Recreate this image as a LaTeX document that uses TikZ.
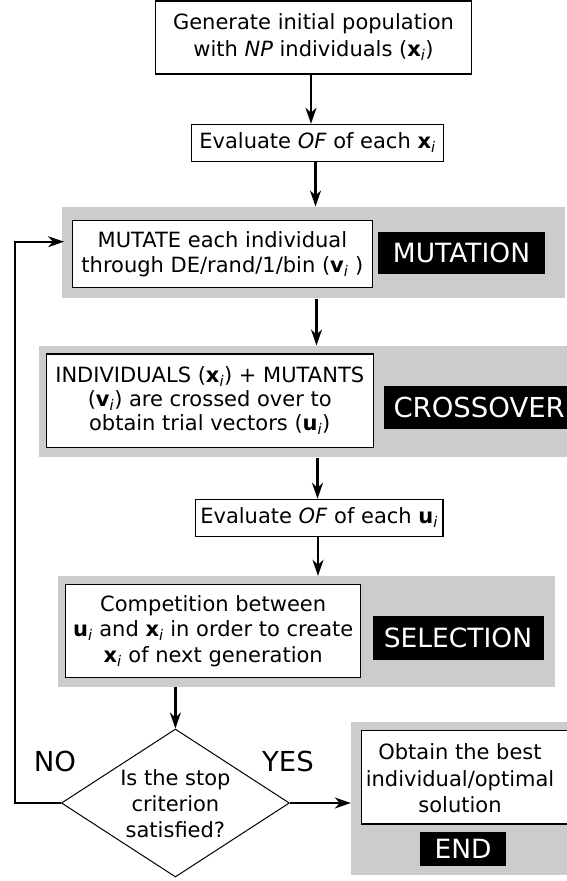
\documentclass[tikz,border=0pt]{standalone}
\usepackage{fontspec}
\setmainfont{DejaVu Sans}
\usetikzlibrary{shapes.geometric,arrows.meta}
\newcommand{\vx}[1]{\textbf{#1}\textsubscript{\itshape i}}
\begin{document}
\begin{tikzpicture}[x=1pt,y=-1pt,
  band/.style={fill=black!20, draw=none, inner sep=0pt, rectangle},
  wbox/.style={draw=black, line width=1.1pt, fill=white, inner sep=0pt, align=center},
  txt/.style={inner sep=0pt, align=center},
  tag/.style={fill=black, text=white, inner sep=0pt, font=\fontsize{26.5}{30}\selectfont},
  lbl/.style={inner sep=0pt, font=\fontsize{27.5}{30}\selectfont},
  flow/.style={line width=2.4pt, -{Stealth[length=16pt,width=11pt,inset=5pt]}},
]
\useasboundingbox (0,0) rectangle (567,881);
% top boxes
\node[wbox, minimum width=316pt, minimum height=73pt, font=\fontsize{21}{27}\selectfont] (box1) at (313.5,37.5)
  {Generate initial population\\with \textit{NP} individuals (\vx{x})};
\node[wbox, minimum width=252pt, minimum height=37pt, font=\fontsize{21}{26}\selectfont] (box2) at (317.5,142.8)
  {Evaluate \textit{OF} of each \vx{x}};
% mutation
\node[band, minimum width=503.5pt, minimum height=91.6pt] (mutband) at (313.25,252.5) {};
\node[wbox, minimum width=300pt, minimum height=67pt, font=\fontsize{21}{25}\selectfont] (mutbox) at (222.4,254.2)
  {MUTATE each individual\\through DE/rand/1/bin (\vx{v} )};
\node[tag, minimum width=167pt, minimum height=42.6pt] (muttag) at (461.5,253) {MUTATION};
% crossover
\node[band, minimum width=541.3pt, minimum height=111.6pt] (crossband) at (309.35,401.5) {};
\node[wbox, minimum width=327pt, minimum height=93.3pt, font=\fontsize{21}{24}\selectfont] (crossbox) at (209.75,400.65)
  {INDIVIDUALS (\vx{x}) + MUTANTS\\(\vx{v}) are crossed over to\\obtain trial vectors (\vx{u})};
\node[tag, anchor=west, minimum height=43.6pt, inner xsep=9.3pt, text width=200pt, align=left, font=\fontsize{27.5}{30}\selectfont] (crosstag) at (384,407.5) {CROSSOVER};
% evaluate u
\node[wbox, minimum width=247.7pt, minimum height=37.4pt, font=\fontsize{21}{26}\selectfont] (evalu) at (319.15,518)
  {Evaluate \textit{OF} of each \vx{u}};
% selection
\node[band, minimum width=497.3pt, minimum height=110.7pt] (selband) at (306.55,631.35) {};
\node[wbox, minimum width=294.8pt, minimum height=93pt, font=\fontsize{21}{25.5}\selectfont] (selbox) at (213.2,630.8)
  {Competition between\\\vx{u} and \vx{x} in order to create\\\vx{x} of next generation};
\node[tag, minimum width=171pt, minimum height=44.3pt] (seltag) at (458,637.85) {SELECTION};
% decision
\node[draw=black, line width=1pt, diamond, minimum width=228pt, minimum height=148pt, inner sep=0pt] (dia) at (175.4,803) {};
\node[txt, font=\fontsize{21}{26}\selectfont] (diatext) at (175.4,804) {Is the stop\\criterion\\satisfied?};
\node[lbl] (no) at (55,761) {NO};
\node[lbl] (yes) at (288,761) {YES};
% final
\node[band, minimum width=229pt, minimum height=152.7pt] (finband) at (465.5,798.65) {};
\node[wbox, minimum width=207.3pt, minimum height=93.3pt] (finbox) at (465.35,777.35) {};
\node[txt, font=\fontsize{21}{26.5}\selectfont] (fintext) at (460,778.3)
  {Obtain the best\\individual/optimal\\solution};
\node[tag, minimum width=86pt, minimum height=33.7pt] (endtag) at (463,849) {END};
% connectors
\coordinate (loopx) at (14.5,803);
\coordinate (mutin) at (64,241.7);
\draw[flow] ([xshift=-2.5pt]box1.south) -- ([xshift=-2.5pt]box1.south |- box2.north);
\draw[flow] ([xshift=-2pt]box2.south) -- ([xshift=-2pt]box2.south |- mutband.north);
\draw[flow] ([xshift=3.25pt]mutband.south) -- ([xshift=3.25pt]mutband.south |- crossband.north);
\draw[flow] ([xshift=8.15pt]crossband.south) -- ([xshift=8.15pt]crossband.south |- evalu.north);
\draw[flow] ([xshift=-1.15pt]evalu.south) -- ([xshift=-1.15pt]evalu.south |- selband.north);
\draw[flow] (dia.north |- selband.south) -- (dia.north);
\draw[flow] (dia.east) -- (dia.east -| finband.west);
\draw[flow, line width=2pt] (dia.west) -- (loopx) |- (mutin);
\end{tikzpicture}
\end{document}
